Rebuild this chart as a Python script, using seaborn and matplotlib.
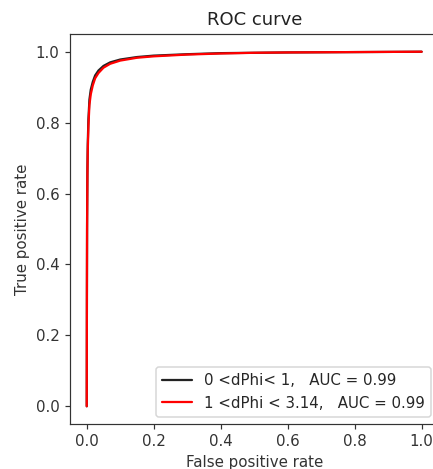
import matplotlib
matplotlib.use("Agg")
import matplotlib.pyplot as plt
import seaborn as sns
import pandas as pd

sns.set_style("ticks")
plt.rcParams['font.family'] = ['DejaVu Sans']

fpr = [0, 0.0005, 0.001, 0.002, 0.003, 0.005, 0.008, 0.012, 0.018, 0.025, 0.035,
       0.05, 0.07, 0.1, 0.15, 0.2, 0.3, 0.4, 0.5, 0.6, 0.8, 1.0]
tpr_0 = [0, 0.32, 0.52, 0.67, 0.74, 0.81, 0.865, 0.893, 0.915, 0.933, 0.947,
         0.96, 0.97, 0.978, 0.985, 0.989, 0.993, 0.996, 0.997, 0.998, 0.999, 1.0]
tpr_1 = [0, 0.30, 0.50, 0.65, 0.72, 0.79, 0.85, 0.88, 0.905, 0.925, 0.94,
         0.955, 0.966, 0.975, 0.983, 0.987, 0.992, 0.995, 0.997, 0.998, 0.999, 1.0]
labels = ["0 <dPhi< 1,   AUC = 0.99", "1 <dPhi < 3.14,   AUC = 0.99"]
colors = ["#222222", "red"]

df = pd.concat([
    pd.DataFrame({"fpr": fpr, "tpr": tpr_0, "label": labels[0]}),
    pd.DataFrame({"fpr": fpr, "tpr": tpr_1, "label": labels[1]}),
])

DPI = 108
fig = plt.figure(figsize=(433 / DPI, 469 / DPI), dpi=DPI)
ax = fig.add_axes([70 / 433, 45 / 469, 368.4 / 433, 390 / 469])
ax.set_facecolor("white")
sns.lineplot(data=df, x="fpr", y="tpr", hue="label", palette=colors,
             ax=ax, linewidth=1.5, sort=False, estimator=None)
for sp in ax.spines.values():
    sp.set_color("#333333")
    sp.set_linewidth(0.8)
ax.tick_params(colors="#333333", labelcolor="#333333", labelsize=10, length=3.5, width=0.8)
ax.set_xlim(-0.05, 1.05)
ax.set_ylim(-0.05, 1.05)
ax.set_xticks([0, 0.2, 0.4, 0.6, 0.8, 1.0])
ax.set_yticks([0, 0.2, 0.4, 0.6, 0.8, 1.0])
ax.set_xlabel("False positive rate", fontsize=10, color="#333333")
ax.set_ylabel("True positive rate", fontsize=10, color="#333333")
ax.set_title("ROC curve", fontsize=12, color="#222222")
leg = ax.legend(loc="lower right", fontsize=10, title=None, frameon=True)
leg.get_frame().set_edgecolor("#cccccc")
fig.savefig("out.png", dpi=DPI, facecolor="white")
